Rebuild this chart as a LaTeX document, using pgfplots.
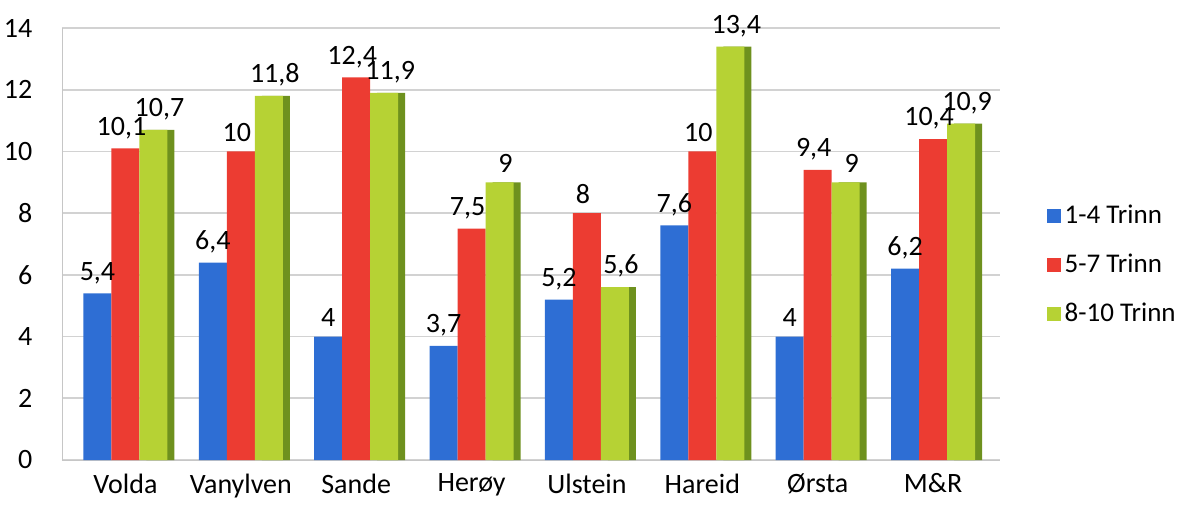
\documentclass[border=0pt]{standalone}
\usepackage{fontspec}
\setmainfont{Carlito}
\usepackage{pgfplots}
\pgfplotsset{compat=1.18}
\definecolor{cblue}{RGB}{46,110,212}
\definecolor{cred}{RGB}{236,60,50}
\definecolor{cgreen}{RGB}{182,210,52}
\definecolor{cdgreen}{RGB}{110,145,30}
\begin{document}
\fontsize{14}{16}\selectfont
\begin{tikzpicture}
\useasboundingbox (-31pt,-22pt) rectangle (560.5pt,230pt);
\begin{axis}[
  scale only axis, width=469pt, height=216pt,
  at={(0,0)}, anchor=south west,
  ybar=0pt, bar width=14pt,
  xmin=-0.55, xmax=7.58, ymin=0, ymax=14,
  xtick=data,
  xticklabels={Volda,Vanylven,Sande,Herøy,Ulstein,Hareid,Ørsta,M\&R},
  ytick={0,2,...,14},
  ymajorgrids, grid style={gray!35, line width=0.8pt},
  axis line style={gray!45},
  axis x line*=bottom, axis y line*=left,
  major tick length=0pt,
  yticklabel style={xshift=-10pt},
  xticklabel style={yshift=-2pt},
  /pgf/number format/assume math mode=true,
  /pgf/number format/use comma,
  nodes near coords style={font=\fontsize{14}{16}\selectfont, /pgf/number format/use comma, /pgf/number format/assume math mode=true},
  legend style={draw=none, at={(1.043,0.451)}, anchor=west, row sep=9pt, font=\fontsize{13.5}{16}\selectfont, fill=none},
  legend cell align=left,
  legend image code/.code={\fill[#1] (0pt,-3.5pt) rectangle (7pt,3.5pt);},
]
\addplot[fill=cdgreen, draw=none, bar shift=17.5pt, forget plot] coordinates {(0,10.7) (1,11.8) (2,11.9) (3,9) (4,5.6) (5,13.4) (6,9) (7,10.9)};
\addplot[fill=cblue, draw=none, bar shift=-14pt, nodes near coords] coordinates {(0,5.4) (1,6.4) (2,4) (3,3.7) (4,5.2) (5,7.6) (6,4) (7,6.2)};
\addplot[fill=cred, draw=none, bar shift=0pt, nodes near coords, every node near coord/.append style={xshift=-2pt}] coordinates {(0,10.1) (1,10) (2,12.4) (3,7.5) (4,8) (5,10) (6,9.4) (7,10.4)};
\addplot[fill=cgreen, draw=none, bar shift=14pt, nodes near coords, every node near coord/.append style={xshift=3pt}] coordinates {(0,10.7) (1,11.8) (2,11.9) (3,9) (4,5.6) (5,13.4) (6,9) (7,10.9)};
\legend{1-4 Trinn, 5-7 Trinn, 8-10 Trinn}
\end{axis}
\end{tikzpicture}
\end{document}
